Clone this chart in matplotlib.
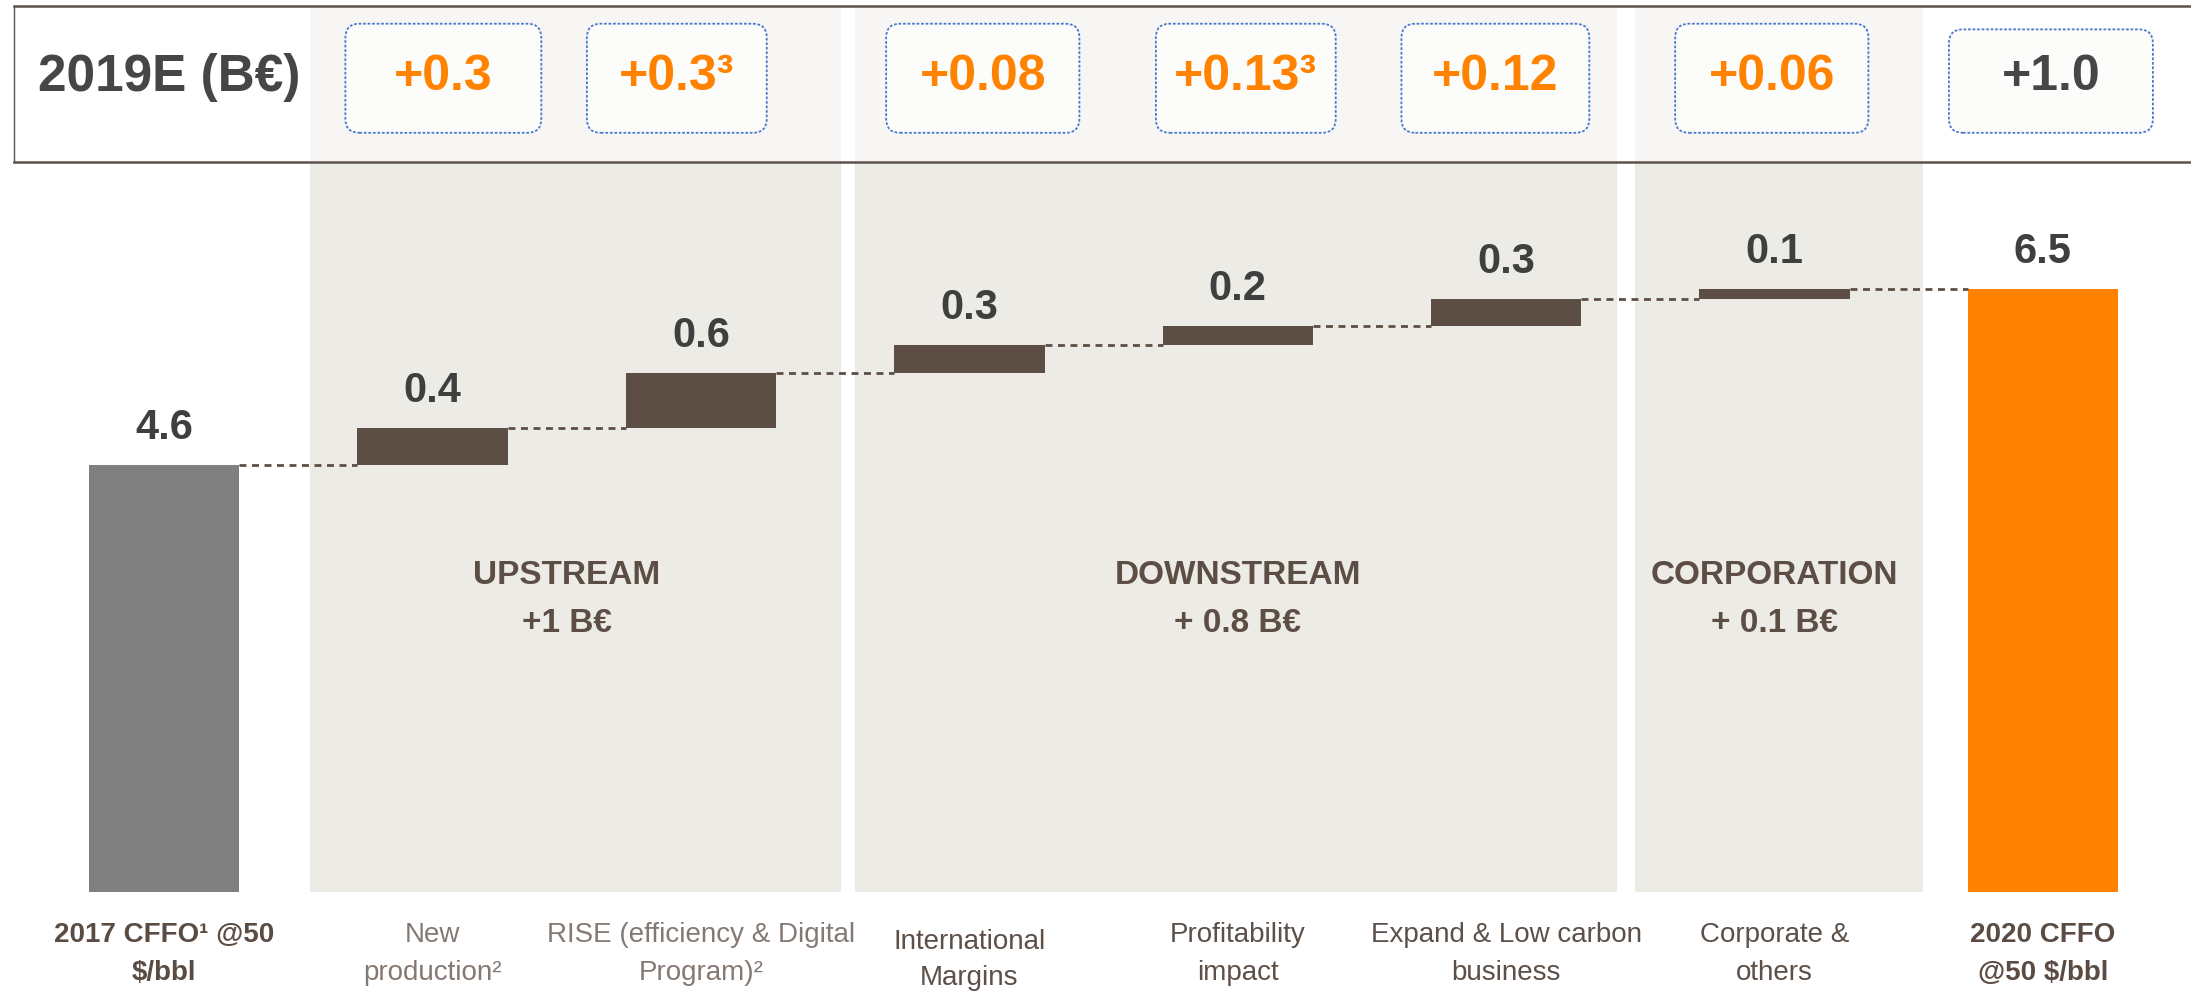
import matplotlib
matplotlib.use("Agg")
import matplotlib.pyplot as plt
from matplotlib.patches import Rectangle, FancyBboxPatch

# --- data -------------------------------------------------------------
categories = ["2017 CFFO\u00b9 @50\n$/bbl", "New\nproduction\u00b2",
              "RISE (efficiency & Digital\nProgram)\u00b2", "International\nMargins",
              "Profitability\nimpact", "Expand & Low carbon\nbusiness",
              "Corporate &\nothers", "2020 CFFO\n@50 $/bbl"]
values = [4.6, 0.4, 0.6, 0.3, 0.2, 0.3, 0.1, 6.5]
is_total = [True, False, False, False, False, False, False, True]
estimates_2019 = ["+0.3", "+0.3\u00b3", "+0.08", "+0.13\u00b3", "+0.12", "+0.06", "+1.0"]
segments = ["UPSTREAM", "DOWNSTREAM", "CORPORATION"]
segment_totals = ["+1 B\u20ac", "+ 0.8 B\u20ac", "+ 0.1 B\u20ac"]
segment_members = [[1, 2], [3, 4, 5], [6]]
header_title = "2019E (B\u20ac)"

# --- style / layout ---------------------------------------------------
BROWN = "#5c4e45"
GREY_BAR = "#808080"
ORANGE = "#ff8200"
DARK = "#3f3f3f"
PANEL = "#edebe6"
PANEL_HEAD = "#f7f6f4"
BOX_EDGE = "#4a78cc"
FONT = ["Liberation Sans", "DejaVu Sans"]

BAR_W = 0.56
XLIM = (-0.612, 7.552)
YLIM = (-1.071, 9.623)
HEAD_LO, HEAD_HI = 7.873, 9.563
panel_edges = [(0.544, 2.523), (2.575, 5.412), (5.480, 6.552)]
box_shift = [0.04, -0.09, 0.05, 0.03, -0.04, -0.01, 0.03]
box_width = [0.73, 0.67, 0.72, 0.67, 0.70, 0.72, 0.76]

plt.rcParams["font.family"] = FONT
fig = plt.figure(figsize=(21.91, 9.91), dpi=100)
ax = fig.add_axes([0, 0, 1, 1])
ax.set_xlim(*XLIM)
ax.set_ylim(*YLIM)
ax.axis("off")

# background panels (body + lighter header strip)
for x0, x1 in panel_edges:
    ax.add_patch(Rectangle((x0, 0), x1 - x0, HEAD_LO, color=PANEL, lw=0, zorder=0))
    ax.add_patch(Rectangle((x0, HEAD_LO), x1 - x0, HEAD_HI - HEAD_LO, color=PANEL_HEAD,
                           lw=0, zorder=0))

# header frame
ax.plot([-0.56, XLIM[1]], [HEAD_HI, HEAD_HI], color="#5e514a", lw=1.8, zorder=1)
ax.plot([-0.56, XLIM[1]], [HEAD_LO, HEAD_LO], color="#5e514a", lw=1.8, zorder=1)
ax.plot([-0.56, -0.56], [HEAD_LO, HEAD_HI], color="#5e514a", lw=1.0, zorder=1)
ax.text(0.02, 8.79, header_title, ha="center", va="center", fontsize=37,
        fontweight="bold", color="#464646")

# waterfall bars
running = 0.0
tops = []
for i, v in enumerate(values):
    if is_total[i]:
        bottom, color = 0.0, (GREY_BAR if i == 0 else ORANGE)
    else:
        bottom, color = running, BROWN
    ax.bar(i, v, BAR_W, bottom=bottom, color=color, zorder=2)
    top = bottom + v
    running = top
    tops.append(top)
    ax.text(i, top + 0.4, f"{v:.1f}", ha="center", va="center", fontsize=30,
            fontweight="bold", color=DARK, zorder=3)

# dashed connectors
for i in range(len(values) - 1):
    ax.plot([i + BAR_W / 2, i + 1 - BAR_W / 2], [tops[i], tops[i]], color=BROWN,
            lw=2, ls=(0, (2.5, 2)), zorder=2)

# 2019 estimate boxes
r = 0.052
for k, txt in enumerate(estimates_2019):
    cx = k + 1 + box_shift[k]
    w = box_width[k]
    y0 = 8.19
    h = 9.367 - y0 if k < len(estimates_2019) - 1 else 9.306 - y0
    ax.add_patch(FancyBboxPatch((cx - w / 2, y0), w, h,
                                boxstyle=f"round,pad=0,rounding_size={r}",
                                mutation_aspect=2.897, fc="#fcfcfb", ec=BOX_EDGE,
                                lw=1.3, ls=(0, (1.5, 1)), zorder=2))
    last = k == len(estimates_2019) - 1
    ax.text(cx, 8.79, txt, ha="center", va="center", fontsize=36, fontweight="bold",
            color="#464646" if last else ORANGE, zorder=3)

# segment labels
for name, tot, members in zip(segments, segment_totals, segment_members):
    cx = sum(members) / len(members)
    ax.text(cx, 3.41, name, ha="center", va="center", fontsize=24,
            fontweight="bold", color=BROWN)
    ax.text(cx, 2.90, tot, ha="center", va="center", fontsize=24,
            fontweight="bold", color=BROWN)

# category labels under the bars
for i, lab in enumerate(categories):
    lines = lab.split("\n")
    y1, y2 = (-0.54, -0.935) if i == 3 else (-0.468, -0.875)
    if is_total[i]:
        kw = dict(fontweight="bold", color="#5a4b43")
    else:
        kw = dict(color="#857a73" if i in (1, 2) else "#5c5049")
    for line, yy in zip(lines, (y1, y2)):
        ax.text(i, yy, line, ha="center", va="center", fontsize=20, **kw)

fig.savefig("out.png", dpi=100)
